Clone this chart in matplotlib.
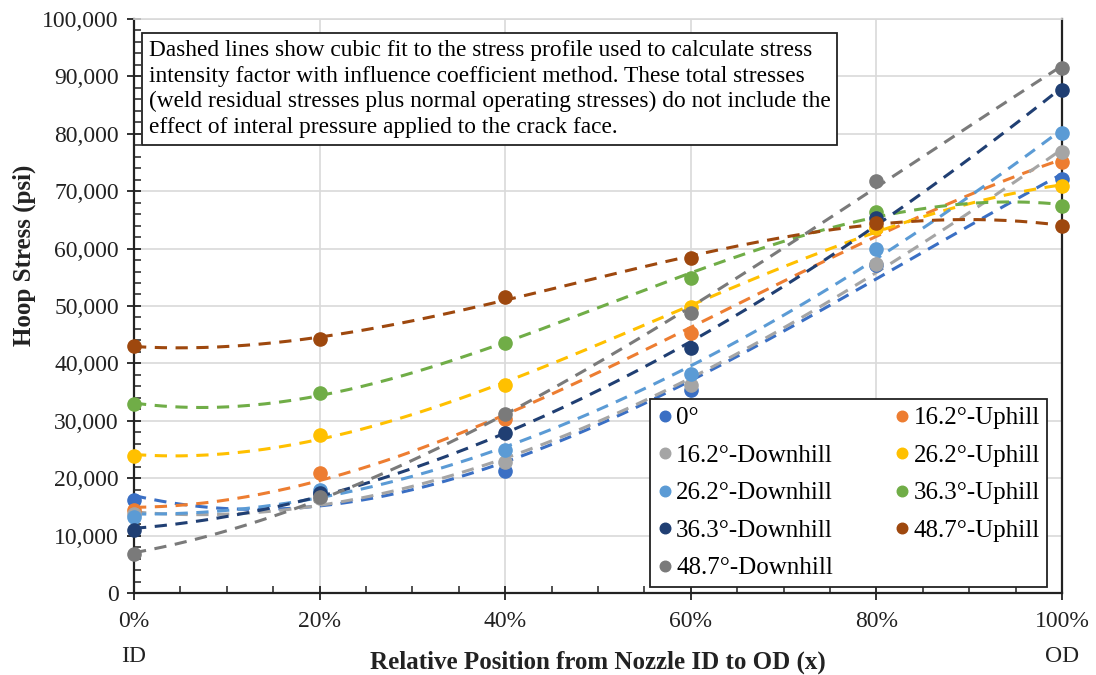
import numpy as np
import matplotlib
matplotlib.use('Agg')
import matplotlib.pyplot as plt
from matplotlib.ticker import MultipleLocator, FuncFormatter

plt.rcParams['font.family'] = ['Liberation Serif', 'DejaVu Serif']

# relative position x (fraction of wall thickness)
pos = [0.0, 0.2, 0.4, 0.6, 0.8, 1.0]

# hoop stress (psi)
s_0 = [16200, 17500, 21300, 35400, 57100, 72200]
s_162u = [14500, 20850, 30300, 45300, 63500, 75100]
s_162d = [13700, 16500, 22900, 36200, 57400, 76800]
s_262u = [23900, 27500, 36200, 49800, 63500, 70900]
s_262d = [13300, 17900, 24900, 38100, 60000, 80200]
s_363u = [32900, 34900, 43600, 54900, 66400, 67400]
s_363d = [11000, 17500, 27800, 42600, 65300, 87700]
s_487u = [43000, 44300, 51500, 58300, 64400, 64000]
s_487d = [6800, 16800, 31200, 48700, 71800, 91500]

labels = ['0°', '16.2°-Uphill', '16.2°-Downhill', '26.2°-Uphill', '26.2°-Downhill',
          '36.3°-Uphill', '36.3°-Downhill', '48.7°-Uphill', '48.7°-Downhill']
series = [s_0, s_162u, s_162d, s_262u, s_262d, s_363u, s_363d, s_487u, s_487d]
colors = ['#3a6fc4', '#ed7d31', '#a5a5a5', '#ffc000', '#5b9bd5',
          '#70ad47', '#203f73', '#9e480e', '#7a7a7a']

fig = plt.figure(figsize=(10.96, 6.75), dpi=100)
ax = fig.add_axes([0.1223, 0.1215, 0.8467, 0.8504])

xf = np.linspace(0, 1, 200)
handles = []
for lab, s, c in zip(labels, series, colors):
    # cubic trendline through the six points
    coef = np.polyfit(pos, s, 3)
    ax.plot(xf, np.polyval(coef, xf), ls=(0, (4, 2.8)), color=c, lw=2.2, zorder=3)
    h, = ax.plot(pos, s, 'o', color=c, ms=9.5, zorder=4, label=lab, clip_on=False)
    handles.append(h)

ax.set_xlim(0, 1)
ax.set_ylim(0, 100000)
ax.xaxis.set_major_locator(MultipleLocator(0.2))
ax.xaxis.set_minor_locator(MultipleLocator(0.05))
ax.yaxis.set_major_locator(MultipleLocator(10000))
ax.yaxis.set_minor_locator(MultipleLocator(2000))
ax.xaxis.set_major_formatter(FuncFormatter(lambda v, p: '{:.0f}%'.format(v * 100)))
ax.yaxis.set_major_formatter(FuncFormatter(lambda v, p: '{:,.0f}'.format(v)))
ax.tick_params(which='major', direction='inout', length=10, width=1.3, labelsize=17, colors='#222222', pad=6)
ax.tick_params(which='minor', direction='in', length=5, width=1.1, colors='#222222')
ax.tick_params(axis='x', which='major', pad=8)
ax.grid(True, which='major', color='#d9d9d9', lw=1.2, zorder=0)
for sp in ['left', 'bottom', 'right']:
    ax.spines[sp].set_color('#222222')
    ax.spines[sp].set_linewidth(1.6)
ax.spines['top'].set_color('#d9d9d9')
ax.spines['top'].set_linewidth(1.2)

ax.text(-0.1185, 0.589, 'Hoop Stress (psi)', transform=ax.transAxes, rotation=90,
        ha='center', va='center', fontsize=18, fontweight='bold', color='#222222')
ax.text(0.5, -0.120, 'Relative Position from Nozzle ID to OD (x)', transform=ax.transAxes,
        ha='center', va='center', fontsize=18, fontweight='bold', color='#222222')
ax.text(0.0, -0.1115, 'ID', transform=ax.transAxes, ha='center', va='center', fontsize=17, color='#222222')
ax.text(1.0, -0.1115, 'OD', transform=ax.transAxes, ha='center', va='center', fontsize=17, color='#222222')

note = ('Dashed lines show cubic fit to the stress profile used to calculate stress\n'
        'intensity factor with influence coefficient method. These total stresses\n'
        '(weld residual stresses plus normal operating stresses) do not include the\n'
        'effect of interal pressure applied to the crack face.')
ax.text(0.0157, 0.963, note, transform=ax.transAxes, ha='left', va='top', fontsize=16.8,
        linespacing=1.28, zorder=6,
        bbox=dict(boxstyle='square,pad=0.3', fc='white', ec='#222222', lw=1.3))

order = [0, 2, 4, 6, 8, 1, 3, 5, 7]
leg = ax.legend([handles[i] for i in order], [labels[i] for i in order], ncol=2,
                loc='lower left', bbox_to_anchor=(0.556, 0.0105, 0.428, 0.34), mode='expand',
                borderaxespad=0, fontsize=18, frameon=True, fancybox=False,
                edgecolor='#222222', framealpha=1,
                handletextpad=0.15, handlelength=0.6, columnspacing=0.45, labelspacing=0.6,
                borderpad=0.3, markerscale=0.8)
leg.get_frame().set_linewidth(1.3)
leg.set_zorder(7)

fig.savefig('out.png', dpi=100)
